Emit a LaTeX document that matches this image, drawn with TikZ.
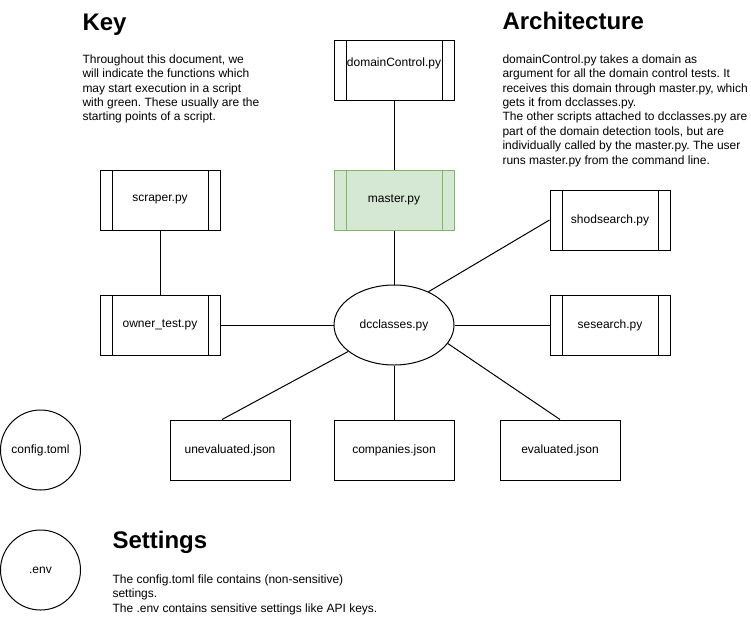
\documentclass[tikz,border=0pt]{standalone}
\usepackage{fontspec}
\setmainfont{Liberation Sans}
\usetikzlibrary{shapes.geometric}
\frenchspacing
\definecolor{greenfill}{HTML}{D5E8D4}
\definecolor{greenline}{HTML}{82B366}
\newcommand{\bodyfont}{\fontsize{12}{14.4}\selectfont\frenchspacing}
\newcommand{\headfont}{\fontsize{24}{28.8}\selectfont\bfseries}
\tikzset{
  proc/.style={draw=#1, rectangle, minimum width=120, minimum height=60, inner sep=0,
    font=\bodyfont,
    path picture={
      \draw[#1, line width=1pt] ([xshift=12pt]path picture bounding box.north west) -- ([xshift=12pt]path picture bounding box.south west);
      \draw[#1, line width=1pt] ([xshift=-12pt]path picture bounding box.north east) -- ([xshift=-12pt]path picture bounding box.south east);
    }},
  proc/.default=black,
  datafile/.style={draw, rectangle, minimum width=120, minimum height=60, inner sep=0, font=\bodyfont},
  settingfile/.style={draw, circle, minimum size=80, inner sep=0, font=\bodyfont},
  heading/.style={anchor=base west, inner sep=0, font=\headfont},
  bodytext/.style={anchor=north west, align=left, inner sep=0, font=\bodyfont},
  link/.style={draw, line width=1pt}
}
\begin{document}
\begin{tikzpicture}[x=1pt, y=-1pt, line width=1pt]
\useasboundingbox (0,0) rectangle (751,643);
% headings and texts
\node[heading] (keyhead) at (82,30) {Key};
\node[bodytext] (keytext) at (82,54) {Throughout this document, we\\will indicate the functions which\\may start execution in a script\\with green. These usually are the\\starting points of a script.};
\node[heading] (archhead) at (502,29) {Architecture};
\node[bodytext] (archtext) at (502,54) {domainControl.py takes a domain as\\argument for all the domain control tests. It\\receives this domain through master.py, which\\gets it from dcclasses.py.\\The other scripts attached to dcclasses.py are\\part of the domain detection tools, but are\\individually called by the master.py. The user\\runs master.py from the command line.};
\node[heading] (sethead) at (112,548) {Settings};
\node[bodytext] (settext) at (112,574) {The config.toml file contains (non-sensitive)\\settings.\\The .env contains sensitive settings like API keys.};
% nodes
\node[proc, label={[font=\bodyfont, yshift=7pt]center:domainControl.py}] (dctrl) at (394,70) {};
\node[proc=greenline, fill=greenfill] (master) at (394,200) {master.py};
\node[proc] (scraper) at (160,200) {scraper.py};
\node[proc] (owner) at (160,325) {owner\_test.py};
\node[proc] (shod) at (610,220) {shodsearch.py};
\node[proc] (sese) at (610,325) {sesearch.py};
\node[draw, ellipse, minimum width=120, minimum height=80, inner sep=0, font=\bodyfont] (dc) at (394,325) {dcclasses.py};
\node[datafile] (unev) at (230,450) {unevaluated.json};
\node[datafile] (comp) at (394,450) {companies.json};
\node[datafile] (eval) at (560,450) {evaluated.json};
\node[settingfile] (config) at (40.5,450) {config.toml};
\node[settingfile] (env) at (40.5,570) {.env};
% connectors
\draw[link] (dctrl.south) -- (master.north);
\draw[link] (master.south) -- (dc.north);
\draw[link] (scraper.south) -- (owner.north);
\draw[link] (owner.east) -- (dc.west);
\draw[link] (dc.east) -- (sese.west);
\draw[link] (dc.44) -- (shod.west);
\draw[link] (dc.south) -- (comp.north);
\draw[link] (dc.210) -- ([xshift=-8pt]unev.north);
\draw[link] (dc.-19) -- (eval.north);
\end{tikzpicture}
\end{document}
